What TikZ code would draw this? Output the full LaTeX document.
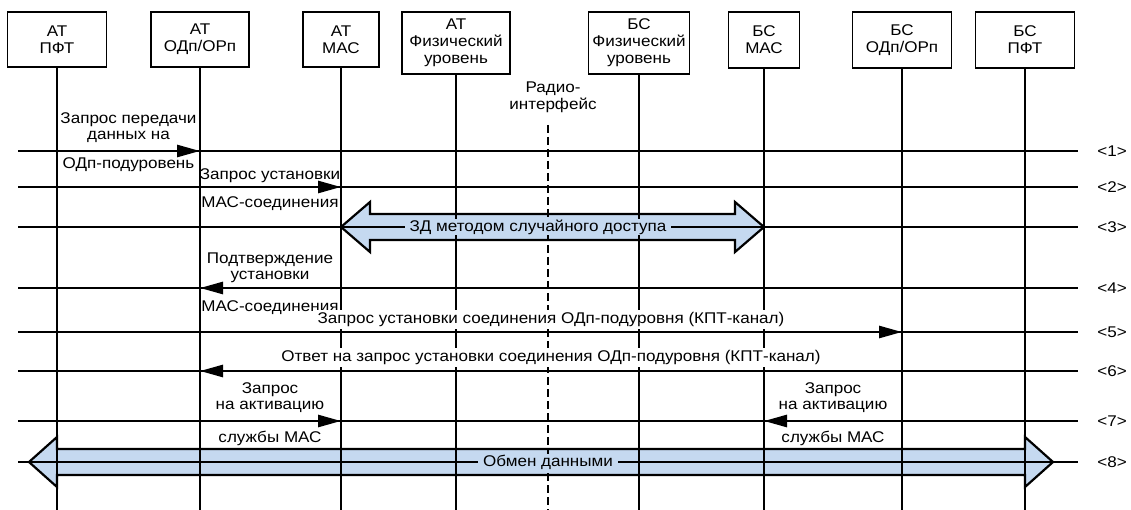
\documentclass[tikz,border=0pt]{standalone}
\usepackage{fontspec}
\setmainfont{Liberation Sans}[FakeStretch=1.1]
\usetikzlibrary{arrows.meta,calc}
\definecolor{arrowblue}{RGB}{197,217,240}
\begin{document}
\begin{tikzpicture}[x=1pt,y=-1pt,
  font=\fontsize{15.5}{16}\selectfont,
  box/.style={draw,line width=1.2pt,align=center,inner sep=0pt,font=\fontsize{15.5}{17}\selectfont},
  life/.style={line width=1.2pt},
  rowline/.style={line width=1.1pt},
  radioline/.style={line width=1.2pt,dash pattern=on 8pt off 4pt},
  msg/.style={line width=2.7pt,-{Triangle[length=23pt,width=12pt]}},
  lbl/.style={align=center,inner sep=0pt},
  wlbl/.style={lbl,fill=white,inner xsep=1pt,inner ysep=2pt},
  biglbl/.style={fill=arrowblue,inner xsep=5pt,inner ysep=1pt},
  big/.style={draw,line width=2.2pt,fill=arrowblue,line join=miter},
  rowlbl/.style={inner sep=0pt}]
\useasboundingbox (0,0) rectangle (1131,510);

% header boxes
\node[box,minimum width=99pt,minimum height=55pt] (b1) at (57,39.5) {АТ\\ПФТ};
\node[box,minimum width=98pt,minimum height=55pt] (b2) at (200,39.5) {АТ\\ОДп/ОРп};
\node[box,minimum width=76pt,minimum height=55pt] (b3) at (341,39.5) {АТ\\МАС};
\node[box,minimum width=108pt,minimum height=62pt] (b4) at (456,43) {АТ\\Физический\\уровень};
\node[box,minimum width=101pt,minimum height=62pt] (b5) at (639,43) {БС\\Физический\\уровень};
\node[box,minimum width=71pt,minimum height=56pt] (b6) at (764,40) {БС\\МАС};
\node[box,minimum width=99pt,minimum height=56pt] (b7) at (902,40) {БС\\ОДп/ОРп};
\node[box,minimum width=99pt,minimum height=56pt] (b8) at (1025,40) {БС\\ПФТ};

% rows
\coordinate (L) at (18,0);
\coordinate (R) at (1078,0);
\coordinate (bot) at (0,510);
\coordinate (r1) at (0,151);
\coordinate (r2) at (0,187);
\coordinate (r3) at (0,227);
\coordinate (r4) at (0,288);
\coordinate (r5) at (0,332);
\coordinate (r6) at (0,371);
\coordinate (r7) at (0,421);
\coordinate (r8) at (0,462);

% big double arrows
\draw[big] (b3 |- r3) -- ++(29,-25) -- ++(0,12) -- ($(b6 |- r3)+(-29,-13)$) -- ++(0,-12)
  -- (b6 |- r3) -- ++(-29,25) -- ++(0,-12) -- ($(b3 |- r3)+(29,13)$) -- ++(0,12) -- cycle;
\coordinate (t8l) at ($(b1 |- r8)+(-28,0)$);
\coordinate (t8r) at ($(b8 |- r8)+(28,0)$);
\draw[big] (t8l) -- ++(28,-25) -- ++(0,12) -- ($(t8r)+(-28,-13)$) -- ++(0,-12)
  -- (t8r) -- ++(-28,25) -- ++(0,-12) -- ($(t8l)+(28,13)$) -- ++(0,12) -- cycle;

% lifelines
\foreach \b in {b1,b2,b3,b4,b5,b6,b7,b8}
  \draw[life] (\b.south) -- (\b |- bot);

% radio interface
\node[lbl,font=\fontsize{15.5}{17}\selectfont] (radio) at (553,97) {Радио-\\интерфейс};
\coordinate (rtop) at (548,125);
\draw[radioline] (rtop) -- (rtop |- bot);

% horizontal rows
\foreach \r in {r1,r2,r3,r4,r5,r6,r7,r8}
  \draw[rowline] (L |- \r) -- (R |- \r);
\node[rowlbl] (n1) at (1112,151) {<1>};
\node[rowlbl] (n2) at (1112,187) {<2>};
\node[rowlbl] (n3) at (1112,227) {<3>};
\node[rowlbl] (n4) at (1112,288) {<4>};
\node[rowlbl] (n5) at (1112,332) {<5>};
\node[rowlbl] (n6) at (1112,371) {<6>};
\node[rowlbl] (n7) at (1112,421) {<7>};
\node[rowlbl] (n8) at (1112,462) {<8>};

% messages
\draw[msg] (b1 |- r1) -- (b2 |- r1);
\draw[msg] (b2 |- r2) -- (b3 |- r2);
\draw[msg] (b3 |- r4) -- (b2 |- r4);
\draw[msg] (b2 |- r5) -- (b7 |- r5);
\draw[msg] (b7 |- r6) -- (b2 |- r6);
\draw[msg] (b2 |- r7) -- (b3 |- r7);
\draw[msg] (b7 |- r7) -- (b6 |- r7);

% labels
\node[lbl,anchor=south] (m1a) at (128.5,142.5) {Запрос передачи\\данных на};
\node[lbl,anchor=north] (m1b) at (128.5,157) {ОДп-подуровень};
\node[lbl,anchor=south] (m2a) at (270,182.5) {Запрос установки};
\node[lbl,anchor=north] (m2b) at (270,196) {МАС-соединения};
\node[biglbl] (m3) at (538,227) {ЗД методом случайного доступа};
\node[lbl,anchor=south] (m4a) at (270,283) {Подтверждение\\установки};
\node[lbl,anchor=north] (m4b) at (270,300) {МАС-соединения};
\node[wlbl,anchor=south] (m5) at (551,329) {Запрос установки соединения ОДп-подуровня (КПТ-канал)};
\node[wlbl,anchor=south] (m6) at (551,367) {Ответ на запрос установки соединения ОДп-подуровня (КПТ-канал)};
\node[lbl,anchor=south] (m7a) at (270,413) {Запрос\\на активацию};
\node[lbl,anchor=north] (m7b) at (270,431) {службы МАС};
\node[lbl,anchor=south] (m7c) at (833,413) {Запрос\\на активацию};
\node[lbl,anchor=north] (m7d) at (833,431) {службы МАС};
\node[biglbl] (m8) at (548,462) {Обмен данными};
\end{tikzpicture}
\end{document}
